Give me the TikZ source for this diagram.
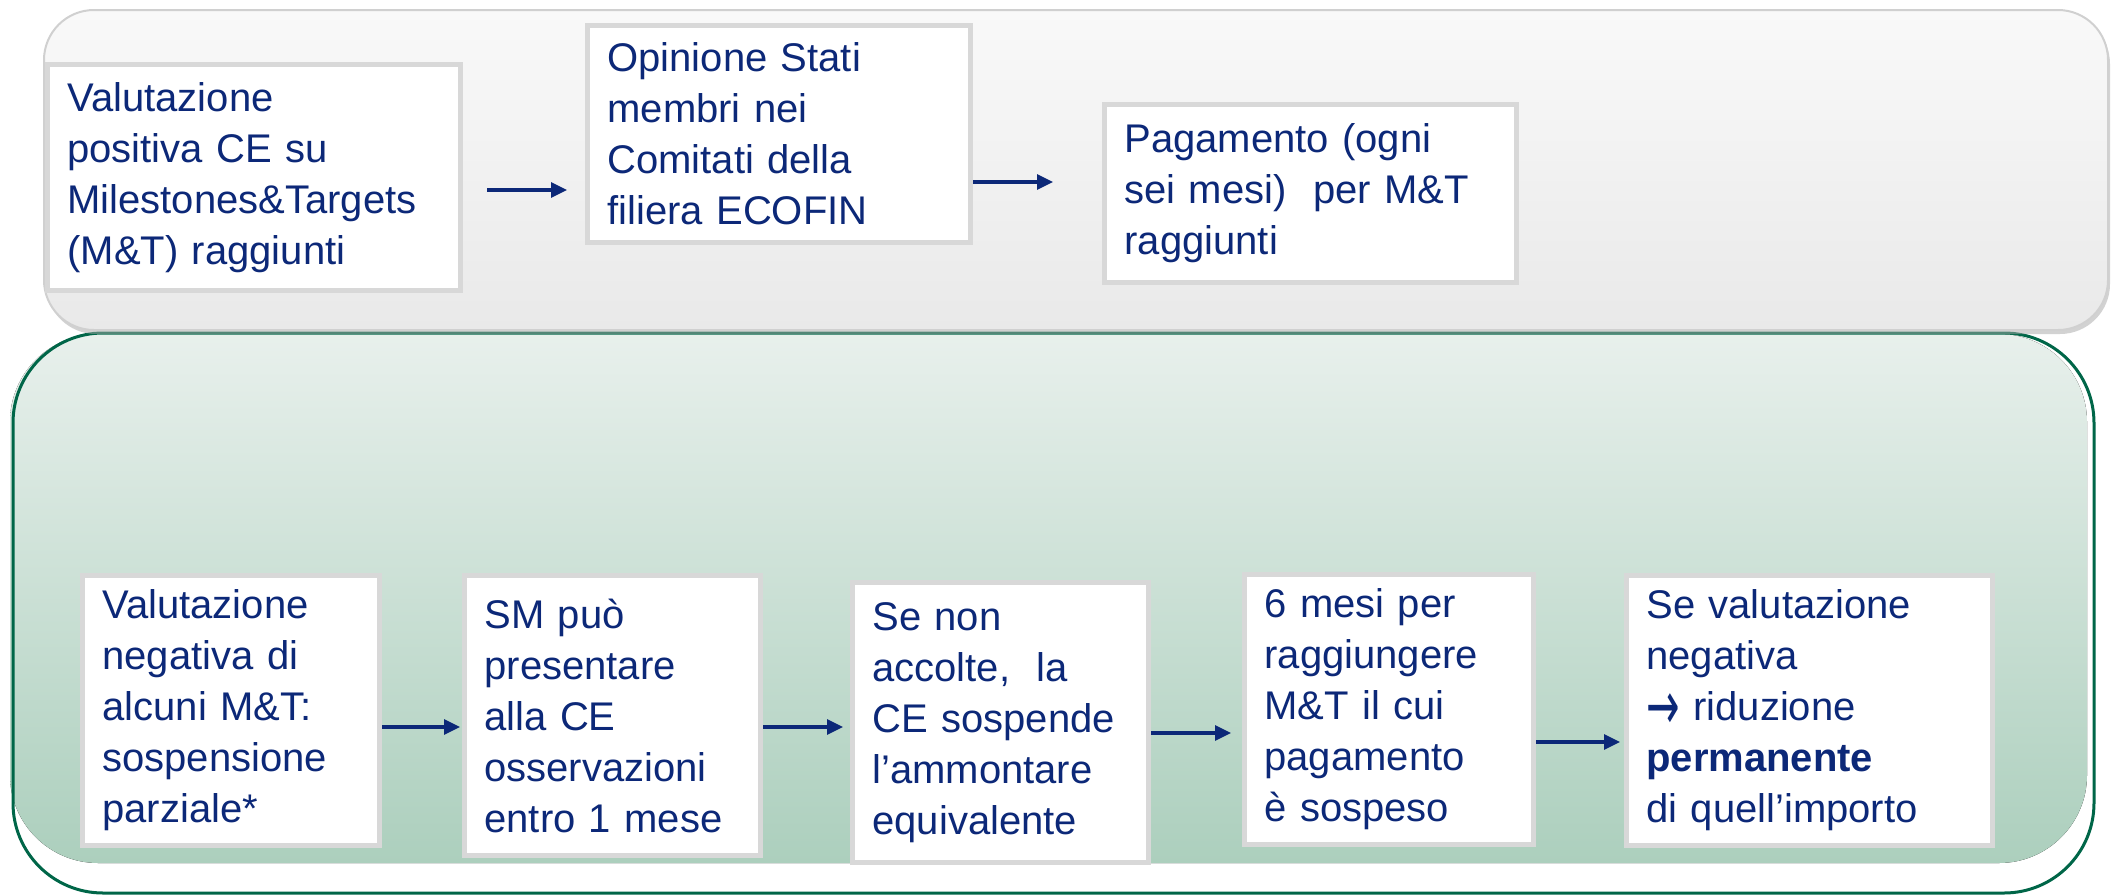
\documentclass[tikz,border=0pt]{standalone}
\usepackage{fontspec}
\usepackage{graphicx}
\setmainfont{Liberation Sans}
\newfontfamily\arrowfont{DejaVu Sans}
\usetikzlibrary{arrows.meta,shadows}

\definecolor{navy}{RGB}{12,40,120}
\definecolor{boxline}{RGB}{216,216,216}
\definecolor{greyline}{RGB}{208,208,208}
\definecolor{greytop}{RGB}{249,249,249}
\definecolor{greybot}{RGB}{233,233,233}
\definecolor{greenline}{RGB}{0,102,72}
\definecolor{greentop}{RGB}{232,240,236}
\definecolor{greenbot}{RGB}{172,207,189}

\begin{document}
\begin{tikzpicture}[x=0.5pt, y=-0.5pt]
    \tikzset{
      card/.style = {draw=boxline, line width=2.5pt, fill=white,
      anchor=north west, inner xsep=10pt, inner ysep=3pt,
      align=left, text=navy, font=\fontsize{20}{25.5}\selectfont},
      flow/.style = {draw=navy, line width=1.6pt,
      -{Triangle[length=8pt, width=7.5pt]}}
    }
    \useasboundingbox (0,0) rectangle (2111,895);

    % green panel, then the grey one over its top edge
    \fill[top color=greentop, bottom color=greenbot, rounded corners=44pt]
      (10,334) rectangle (2087,863);
    \draw[greenline, line width=1.5pt, rounded corners=45pt]
      (13,333) rectangle (2094,893);
    \draw[greyline, line width=1pt, top color=greytop, bottom color=greybot,
      rounded corners=25pt,
      drop shadow={fill=black!35, opacity=0.5, shadow xshift=1pt, shadow yshift=-2pt}]
      (44,10) rectangle (2108,330);

    \node[card, minimum width=206.5pt, minimum height=113pt, text width=186.5pt]
      (t1) at (45,62) {Valutazione\\positiva CE su\\Milestones\&Targets\\(M\&T) raggiunti};
    \node[card, minimum width=191.5pt, minimum height=108.5pt, text width=171.5pt]
      (t2) at (585,23) {Opinione Stati\\membri nei\\Comitati della\\filiera ECOFIN};
    \node[card, minimum width=206pt, minimum height=89pt, text width=186pt]
      (t3) at (1102,102) {Pagamento (ogni\\sei mesi)~ per M\&T\\raggiunti};

    \node[card, minimum width=148.5pt, minimum height=135pt, text width=128.5pt]
      (b1) at (80,573) {Valutazione\\negativa di\\alcuni M\&T:\\sospensione\\parziale*};
    \node[card, minimum width=148pt, minimum height=140pt, text width=128pt]
      (b2) at (462,573) {SM può\\presentare\\alla CE\\osservazioni\\entro 1 mese};
    \node[card, minimum width=148pt, minimum height=140pt, text width=128pt]
      (b3) at (850,580) {Se non\\accolte,~ la\\CE sospende\\l’ammontare\\equivalente};
    \node[card, minimum width=144.5pt, minimum height=135pt, text width=124.5pt]
      (b4) at (1242,572) {6 mesi per\\raggiungere\\M\&T il cui\\pagamento\\è sospeso};
    \node[card, minimum width=183pt, minimum height=135pt, text width=163pt]
      (b5) at (1624,573) {Se valutazione\\negativa\\\raisebox{-4.5pt}[0pt][0pt]{\scalebox{1}[1.7]{\arrowfont →}} riduzione\\\textbf{permanente}\\di quell’importo};

    \coordinate (ra) at (0,190);
    \coordinate (rb) at (0,182);
    \coordinate (rc) at (0,727);
    \coordinate (rd) at (0,733);
    \coordinate (re) at (0,742);

    \draw[flow, shorten <=12pt, shorten >=9pt] (t1.east |- ra) -- (t2.west |- ra);
    \draw[flow, shorten >=24.5pt] (t2.east |- rb) -- (t3.west |- rb);
    \draw[flow, shorten >=1pt] (b1.east |- rc) -- (b2.west |- rc);
    \draw[flow, shorten >=3.5pt] (b2.east |- rc) -- (b3.west |- rc);
    \draw[flow, shorten >=5.5pt] (b3.east |- rd) -- (b4.west |- rd);
    \draw[flow, shorten >=2pt] (b4.east |- re) -- (b5.west |- re);
\end{tikzpicture}
\end{document}
